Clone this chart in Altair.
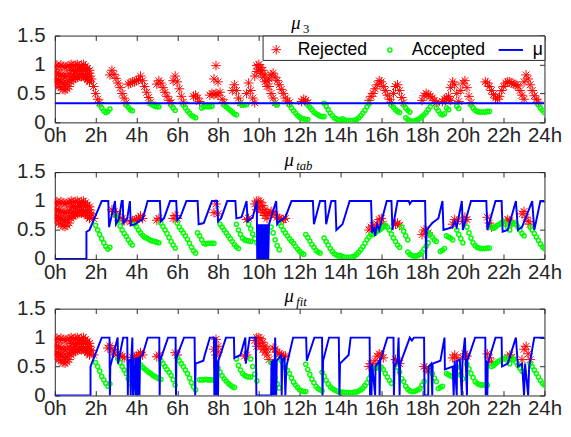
import altair as alt
import pandas as pd

HOUR_TICKS = list(range(0, 25, 2))
Y_TICKS = [0, 0.5, 1, 1.5]
KINDS = ["Rejected", "Accepted", "μ"]
COLORS = ["#ff0000", "#00ff00", "#0000ff"]
# symbols drawn inside one common symbol box, so a single size works for all
ASTER = "M0,-0.4L0,0.4M-0.4,0L0.4,0M-0.28,-0.28L0.28,0.28M-0.28,0.28L0.28,-0.28"
DOT = "M-0.17,0A0.17,0.17,0,1,0,0.17,0A0.17,0.17,0,1,0,-0.17,0Z"
SYM_SIZE = 625
STEP = 0.1
PLOT_W = 502
PLOT_H = 89

# noisy block of rejected requests before the first decision (same in all panels)
BLOB = [
    (0.0, [0.97, 0.99, 0.96, 0.99, 0.97, 0.95, 0.96, 0.98, 1.0, 0.98, 0.99, 1.0, 0.97, 0.99, 1.0, 0.97, 0.93, 0.9]),
    (0.0, [0.87, 0.85, 0.84, 0.82, 0.8, 0.79, 0.8, 0.84, 0.9, 0.9, 0.88, 0.91, 0.92, 0.9, 0.93, 0.9, 0.84, 0.8]),
    (0.0, [0.76, 0.74, 0.72, 0.7, 0.68, 0.66, 0.68, 0.72, 0.79, 0.8, 0.79, 0.8, 0.82, 0.8, 0.83, 0.8, 0.76, 0.72]),
    (0.0, [0.7, 0.66, 0.62, 0.6, 0.57, 0.56, 0.58, 0.62, 0.7, 0.74, 0.76, 0.78, 0.8, 0.79, 0.8, 0.78, 0.74, 0.7]),
]

# ---- panel 1 : mu_3 ----
P1_REJ = [
    (1.7, [0.85, 0.75, 0.62, 0.5, 0.4, 0.34]),
    (2.7, [0.82, 0.9, 0.83, 0.76, 0.68, 0.6, 0.5, 0.42, 0.34]),
    (3.6, [0.66, 0.68, 0.7, 0.7, 0.72, 0.74, 0.8, 0.72, 0.62, 0.52, 0.43, 0.35]),
    (5.0, [0.66, 0.72, 0.68, 0.6, 0.52, 0.45, 0.38, 0.34]),
    (5.8, [0.72, 0.8, 0.7, 0.58, 0.45, 0.35]),
    (6.8, [0.45, 0.47, 0.42, 0.36]),
    (7.6, [0.47, 0.5, 0.75, 0.98, 0.7, 0.52, 0.4, 0.34]),
    (7.8, [0.48, 0.5, 0.47]),
    (8.7, [0.55, 0.65, 0.55, 0.42, 0.34]),
    (9.4, [0.5, 0.68, 0.55, 0.42, 0.34]),
    (9.8, [0.8, 0.98, 1.0, 0.95, 0.9, 0.82, 0.72, 0.62, 0.5, 0.42, 0.34]),
    (9.9, [0.88, 0.92, 0.85, 0.78, 0.7, 0.62]),
    (10.5, [0.75, 0.82, 0.85, 0.78, 0.72, 0.65, 0.57, 0.5, 0.42, 0.37, 0.34]),
    (12.1, [0.36, 0.4, 0.38, 0.34]),
    (15.4, [0.38, 0.45, 0.5, 0.58, 0.65, 0.72, 0.7, 0.62, 0.55, 0.47, 0.4, 0.34]),
    (16.6, [0.5, 0.62, 0.65, 0.55, 0.43, 0.34]),
    (18.0, [0.38, 0.46, 0.5, 0.48, 0.45, 0.42, 0.38, 0.34]),
    (19.0, [0.36, 0.4, 0.42, 0.4, 0.38]),
    (19.3, [0.45, 0.6, 0.7, 0.65, 0.5, 0.36]),
    (19.9, [0.55, 0.68, 0.72, 0.6, 0.45, 0.34]),
    (21.1, [0.7, 0.68, 0.62, 0.55, 0.48, 0.42, 0.4, 0.45, 0.55, 0.62, 0.68, 0.7, 0.7, 0.68, 0.66, 0.65, 0.63, 0.55, 0.47, 0.4]),
    (23.0, [0.7, 0.82, 0.75, 0.65, 0.55, 0.46, 0.4, 0.35]),
]
P1_ACC = [
    (2.2, [0.3, 0.25, 0.2, 0.17, 0.19, 0.23]),
    (3.5, [0.3, 0.26, 0.22, 0.2]),
    (4.7, [0.32, 0.3, 0.28, 0.27, 0.27]),
    (5.7, [0.3, 0.25, 0.21]),
    (6.3, [0.3, 0.25, 0.2, 0.16, 0.12, 0.1, 0.08]),
    (7.2, [0.25, 0.27, 0.28, 0.27, 0.27, 0.28]),
    (8.3, [0.3, 0.27, 0.24, 0.21, 0.18, 0.15, 0.13]),
    (9.1, [0.32, 0.3, 0.3, 0.31]),
    (10.8, [0.32, 0.3]),
    (11.5, [0.3, 0.25, 0.2, 0.16, 0.12, 0.09, 0.07, 0.06, 0.05, 0.05]),
    (12.4, [0.3, 0.26, 0.22, 0.18, 0.15, 0.13, 0.11, 0.1, 0.1]),
    (13.2, [0.33, 0.28, 0.22, 0.16, 0.12, 0.08, 0.06, 0.04, 0.03, 0.03]),
    (14.1, [0.06, 0.04, 0.03, 0.03, 0.03, 0.03, 0.04, 0.05, 0.08, 0.12, 0.16, 0.21, 0.27, 0.32]),
    (16.5, [0.3, 0.26, 0.22, 0.19, 0.17]),
    (17.1, [0.3, 0.25, 0.21, 0.18]),
    (17.2, [0.08, 0.05, 0.03, 0.02, 0.02, 0.03, 0.05, 0.07, 0.1, 0.13, 0.17, 0.22, 0.27]),
    (18.7, [0.25, 0.2, 0.15, 0.13, 0.15]),
    (19.2, [0.25, 0.22]),
    (19.7, [0.28, 0.24]),
    (20.4, [0.3, 0.25, 0.21, 0.19, 0.18, 0.18, 0.18, 0.18, 0.19, 0.19]),
    (23.7, [0.3, 0.25, 0.21, 0.17]),
]
MU3_T = [0, 24]
MU3_V = [0.33, 0.33]

# ---- panel 2 : mu_tab ----
P2_REJ = [
    (1.7, [0.85, 0.78, 0.7]),
    (2.8, [0.85, 0.82, 0.78, 0.72]),
    (3.3, [0.7, 0.66]),
    (3.7, [0.64, 0.66, 0.66, 0.68, 0.7, 0.74, 0.7]),
    (5.0, [0.67, 0.7]),
    (5.8, [0.7, 0.75, 0.7]),
    (7.8, [0.8, 0.95, 0.78]),
    (9.4, [0.68, 0.7]),
    (9.8, [0.95, 1.0, 1.0, 0.98, 0.92, 0.85, 0.8]),
    (9.9, [0.85, 0.9, 0.85, 0.8, 0.75, 0.7]),
    (10.5, [0.78, 0.82, 0.8, 0.76, 0.72, 0.7, 0.68, 0.68, 0.7]),
    (15.4, [0.5, 0.55, 0.58, 0.5, 0.6, 0.68, 0.7, 0.6]),
    (16.7, [0.6, 0.62, 0.58]),
    (18.0, [0.42, 0.5, 0.48, 0.45]),
    (19.5, [0.6, 0.68, 0.65]),
    (20.0, [0.65, 0.72, 0.68]),
    (21.2, [0.72, 0.62, 0.55]),
    (22.1, [0.65, 0.68, 0.66, 0.62]),
    (22.9, [0.78, 0.82, 0.72, 0.65, 0.6]),
]
P2_ACC = [
    (2.0, [0.58, 0.5, 0.42, 0.35, 0.28, 0.22, 0.17, 0.2]),
    (3.0, [0.75, 0.66, 0.57, 0.5, 0.44, 0.39, 0.33, 0.28, 0.24]),
    (3.9, [0.6, 0.56, 0.5, 0.45, 0.41, 0.38, 0.36, 0.34, 0.32, 0.31, 0.3, 0.29, 0.28]),
    (5.2, [0.62, 0.56, 0.5, 0.44, 0.37, 0.3, 0.24, 0.19]),
    (6.0, [0.62, 0.55, 0.5, 0.45, 0.4, 0.34, 0.27, 0.2, 0.14, 0.1]),
    (7.0, [0.45, 0.4, 0.33, 0.27, 0.26, 0.27, 0.27, 0.27, 0.27]),
    (8.1, [0.6, 0.55, 0.5, 0.45, 0.4, 0.35, 0.3, 0.25, 0.21, 0.18]),
    (8.9, [0.6, 0.5, 0.42, 0.36, 0.33, 0.32, 0.31, 0.3]),
    (9.5, [0.6, 0.52, 0.43, 0.35, 0.28]),
    (10.6, [0.55, 0.45, 0.33, 0.23, 0.16]),
    (11.0, [0.62, 0.57, 0.5, 0.45, 0.4, 0.35, 0.31, 0.27, 0.22, 0.17, 0.13, 0.1, 0.08]),
    (12.3, [0.42, 0.37, 0.31, 0.25, 0.2, 0.15, 0.12, 0.1]),
    (13.2, [0.36, 0.3, 0.24, 0.18, 0.13, 0.09, 0.07, 0.05]),
    (14.0, [0.06, 0.04, 0.03, 0.03, 0.03, 0.03, 0.04, 0.05, 0.08, 0.12, 0.16, 0.21, 0.27, 0.33, 0.38, 0.42]),
    (15.6, [0.42, 0.45, 0.48, 0.5, 0.52]),
    (16.1, [0.55, 0.58, 0.55, 0.5, 0.43, 0.36, 0.3, 0.24, 0.2]),
    (17.0, [0.55, 0.48, 0.4, 0.33]),
    (17.3, [0.12, 0.08, 0.06, 0.05, 0.05, 0.06, 0.08, 0.12, 0.17, 0.22, 0.28]),
    (18.3, [0.45, 0.42, 0.38, 0.33, 0.3]),
    (18.9, [0.13, 0.15, 0.18]),
    (19.2, [0.4, 0.38, 0.36, 0.33]),
    (19.7, [0.5, 0.42, 0.35, 0.28]),
    (20.2, [0.55, 0.45, 0.36, 0.28, 0.23, 0.2, 0.19, 0.18, 0.18, 0.18, 0.19, 0.19]),
    (21.4, [0.55, 0.53, 0.55, 0.58, 0.6, 0.63, 0.65, 0.6, 0.55, 0.5]),
    (22.4, [0.6, 0.63, 0.6, 0.55, 0.5, 0.44, 0.4]),
    (23.3, [0.55, 0.5, 0.44, 0.38, 0.32, 0.26, 0.21, 0.18]),
]
MUTAB_T = [0, 1.55, 1.55, 1.7, 2.3, 2.62, 2.66, 2.95, 3.0, 3.15, 3.28, 3.33, 3.36, 3.55, 3.68, 3.72,
           3.95, 4.1, 4.3, 4.55, 5.15, 5.2, 5.35, 5.65, 5.95, 6.0, 6.15, 6.45, 7.0, 7.05, 7.3, 7.7,
           7.95, 8.0, 8.15, 8.45, 8.85, 8.9, 9.15, 9.4, 9.45, 9.7, 9.9,
           9.92, 9.95, 9.98, 10.01, 10.04, 10.07, 10.1, 10.13, 10.16, 10.19, 10.22, 10.25, 10.28,
           10.31, 10.34, 10.37, 10.4, 10.43, 10.46, 10.5,
           10.85, 10.9, 11.0, 11.3, 11.6, 12.65, 12.7, 13.0, 13.25, 13.3, 13.55, 13.75, 13.8, 14.1,
           14.45, 15.5, 15.55, 15.65, 15.7, 15.8, 15.9, 16.27, 16.5, 16.55, 16.8, 17.35, 17.4, 17.5,
           18.15, 18.2, 18.22, 18.5, 18.8, 19.0, 19.05, 19.5, 19.6, 19.7, 19.95, 20.0, 20.4, 21.15,
           21.2, 21.6, 21.9, 21.95, 22.2, 22.6, 22.7, 22.9, 23.4, 23.5, 23.8, 24]
MUTAB_V = [0, 0, 0.47, 0.5, 1.0, 1.0, 0.55, 1.0, 0.6, 0.7, 1.0, 1.0, 0.62, 0.7, 1.0, 0.58,
           0.6, 0.65, 0.68, 1.0, 1.0, 0.65, 0.7, 1.0, 1.0, 0.67, 0.72, 1.0, 1.0, 0.6, 0.62, 1.0,
           1.0, 0.65, 0.7, 1.0, 1.0, 0.7, 0.72, 1.0, 0.65, 0.72, 1.0,
           0, 0.6, 0, 0.6, 0, 0.6, 0, 0.6, 0, 0.6, 0, 0.6, 0,
           0.6, 0, 0.6, 0, 0.6, 0, 0.6,
           1.0, 0.6, 0.65, 0.72, 1.0, 1.0, 0.6, 1.0, 1.0, 0.6, 1.0, 1.0, 0.5, 0.6,
           1.0, 1.0, 0.45, 0.55, 0.4, 0.6, 0.5, 1.0, 1.0, 0.5, 1.0, 1.0, 0.95, 1.0,
           1.0, 0, 0.5, 0.62, 0.7, 1.0, 0.5, 0.55, 0.65, 0.55, 1.0, 0.5, 1.0, 1.0,
           0.5, 1.0, 1.0, 0.47, 0.5, 1.0, 0.5, 0.55, 1.0, 0.5, 1.0, 1.0]

# ---- panel 3 : mu_fit ----
P3_REJ = [
    (1.7, [0.85, 0.78, 0.7]),
    (2.6, [0.82, 0.86, 0.8, 0.75, 0.7]),
    (3.2, [0.7, 0.67, 0.65]),
    (3.8, [0.66, 0.66, 0.68, 0.7, 0.74, 0.7]),
    (5.0, [0.67, 0.7]),
    (5.9, [0.74, 0.7]),
    (7.8, [0.8, 0.97, 0.75]),
    (7.9, [0.7, 0.85]),
    (9.3, [0.68, 0.7]),
    (9.8, [0.95, 1.0, 1.0, 0.98, 0.92, 0.85, 0.8]),
    (9.9, [0.85, 0.9, 0.85, 0.8, 0.75, 0.7, 0.62]),
    (10.7, [0.82, 0.8, 0.75, 0.72, 0.7, 0.68, 0.68]),
    (15.4, [0.5, 0.55, 0.5, 0.6, 0.68, 0.72, 0.7, 0.65]),
    (16.7, [0.62, 0.6, 0.55]),
    (18.1, [0.5, 0.47, 0.42]),
    (19.5, [0.65, 0.7, 0.65]),
    (20.0, [0.65, 0.72, 0.68]),
    (21.2, [0.72, 0.65, 0.58]),
    (22.2, [0.65, 0.7, 0.66]),
    (22.9, [0.62, 0.8, 0.85, 0.72, 0.62]),
]
P3_ACC = [
    (2.0, [0.57, 0.5, 0.42, 0.33, 0.27, 0.21, 0.16, 0.2]),
    (3.1, [0.63, 0.57, 0.5, 0.44, 0.38, 0.29, 0.21]),
    (4.1, [0.57, 0.53, 0.49, 0.46, 0.43, 0.4, 0.38, 0.35, 0.33, 0.31, 0.29, 0.28]),
    (5.2, [0.6, 0.55, 0.5, 0.45, 0.4, 0.35, 0.27, 0.18]),
    (6.0, [0.65, 0.6, 0.55, 0.5, 0.44, 0.38, 0.3, 0.22, 0.15, 0.1]),
    (7.1, [0.27, 0.27, 0.27, 0.28, 0.27, 0.27, 0.27, 0.27]),
    (7.9, [0.52, 0.47, 0.4, 0.34, 0.29, 0.25, 0.21, 0.18, 0.15, 0.14]),
    (8.9, [0.63, 0.52, 0.44, 0.38, 0.35, 0.33, 0.32, 0.32]),
    (9.6, [0.63, 0.5, 0.37, 0.25]),
    (10.6, [0.57, 0.45, 0.3, 0.2, 0.13]),
    (11.1, [0.6, 0.55, 0.48, 0.43, 0.38, 0.3, 0.23, 0.18, 0.14, 0.1, 0.08, 0.07, 0.07]),
    (12.3, [0.54, 0.45, 0.36, 0.28, 0.22, 0.16, 0.12, 0.1, 0.08]),
    (13.1, [0.4, 0.33, 0.26, 0.2, 0.15, 0.12, 0.1, 0.08, 0.07, 0.06, 0.06, 0.05, 0.05, 0.05,
            0.05, 0.05, 0.06, 0.06, 0.08, 0.1, 0.13, 0.17, 0.22, 0.29, 0.35]),
    (15.6, [0.46, 0.47, 0.48, 0.48, 0.49, 0.45, 0.38, 0.32, 0.26, 0.21]),
    (16.8, [0.49, 0.4, 0.29]),
    (17.1, [0.24, 0.16, 0.11, 0.08, 0.07, 0.07, 0.08, 0.1, 0.12, 0.18, 0.24]),
    (18.4, [0.46, 0.38, 0.3, 0.24]),
    (18.8, [0.12, 0.14, 0.16]),
    (19.2, [0.38, 0.36, 0.34, 0.33, 0.32]),
    (19.7, [0.49, 0.42, 0.35, 0.29]),
    (20.2, [0.54, 0.46, 0.38, 0.31, 0.24, 0.21, 0.19, 0.18, 0.18, 0.18, 0.18]),
    (21.4, [0.5, 0.52, 0.55, 0.58, 0.6, 0.62, 0.64, 0.65, 0.6, 0.55]),
    (22.4, [0.65, 0.62, 0.58, 0.52, 0.47, 0.42]),
    (23.3, [0.55, 0.5, 0.44, 0.38, 0.32, 0.26, 0.21, 0.18]),
]
MUFIT_T = [0, 1.75, 1.75, 2.3, 2.68, 2.7, 2.72, 3.08, 3.1, 3.35, 3.55, 3.58, 3.6, 3.7, 3.72, 3.75,
           3.8, 3.83, 3.86, 3.95, 3.98, 4.05, 4.08, 4.15, 4.18, 4.3, 4.55, 5.12, 5.14, 5.16, 5.55,
           5.92, 5.94, 5.96, 6.33, 6.85, 6.88, 6.9, 7.28, 7.35, 7.6, 7.8, 7.82, 7.85, 7.88, 7.9,
           7.93, 7.96, 8.0, 8.02, 8.39, 8.78, 8.8, 9.1, 9.34, 9.36, 9.55, 9.85, 9.88, 10.6, 10.62,
           10.65, 10.7, 10.75, 10.8, 10.85, 10.88, 11.1, 11.12, 11.15, 11.25, 11.3, 11.35, 11.68,
           12.32, 12.35, 12.72, 13.1, 13.12, 13.15, 13.44, 13.92, 13.95, 13.98, 14.4, 14.5, 15.43,
           15.45, 15.48, 15.52, 15.55, 15.7, 15.72, 15.9, 15.92, 15.95, 16.3, 16.6, 16.62, 16.65,
           16.8, 16.85, 16.9, 16.93, 17.4, 17.5, 17.6, 18.1, 18.12, 18.3, 18.32, 18.45, 18.5, 18.52,
           18.9, 19.1, 19.12, 19.5, 19.55, 19.6, 19.7, 19.72, 19.85, 19.95, 19.98, 20.1, 20.2, 20.22,
           20.6, 21.1, 21.12, 21.15, 21.2, 21.22, 21.6, 21.9, 21.92, 22.2, 22.6, 22.7, 22.9, 23.0,
           23.05, 23.2, 23.25, 23.5, 24]
MUFIT_V = [0, 0, 0.5, 1.0, 1.0, 0, 0.5, 1.0, 0.55, 1.0, 1.0, 0, 0.6, 0.62, 0, 0.63,
           1.0, 0, 0.64, 0, 0.65, 0, 0.66, 0, 0.67, 0.7, 1.0, 1.0, 0, 0.6, 1.0,
           1.0, 0, 0.65, 1.0, 1.0, 0, 0.55, 0.6, 0.7, 1.0, 1.0, 0, 0.65, 0, 1.0,
           0, 0.6, 0, 0.6, 1.0, 1.0, 0.65, 0.7, 1.0, 0.55, 1.0, 1.0, 0, 0, 0.6,
           0, 0.62, 0, 1.0, 0, 0.6, 0.7, 0, 0.62, 0.65, 0, 0.5, 1.0,
           1.0, 0.6, 1.0, 1.0, 0, 0.6, 1.0, 1.0, 0, 0.55, 0.7, 1.0, 1.0,
           0, 0.5, 0, 0.55, 0, 0.5, 0.6, 0, 0.6, 1.0, 1.0, 0, 0.5,
           0.6, 1.0, 0, 0.55, 1.0, 0.95, 1.0, 1.0, 0, 0, 0.5, 0.55, 0, 0.55,
           0.6, 1.0, 0.45, 0.5, 0, 0.6, 0, 0.6, 0.62, 0, 0.6, 1.0, 0, 0.6,
           1.0, 1.0, 0, 0.6, 0, 0.55, 1.0, 1.0, 0.5, 0.55, 1.0, 0.5, 0.55, 0,
           0.55, 0, 0.5, 1.0, 1.0]


def points(segs, kind):
    rows = []
    for start, vals in segs:
        for i, v in enumerate(vals):
            rows.append({"t": round(start + STEP * i, 3), "v": v, "kind": kind})
    return rows


AX = dict(labelFont="Liberation Sans", labelFontSize=21, labelColor="#262626",
          tickColor="#262626", tickSize=5, tickWidth=1, domain=False, grid=False,
          labelOverlap=False, labelFlush=False)
TITLE_STYLE = dict(titleFont="Liberation Serif", titleFontStyle="italic", titleFontWeight="normal",
                   titleColor="black", titleAngle=0, titleAlign="left", titleBaseline="alphabetic")


def panel(rej, acc, mu_t, mu_v, sub, sub_style, mu_x, sub_x, show_legend):
    pts = pd.DataFrame(points(BLOB + rej, "Rejected") + points(acc, "Accepted"))
    mu = pd.DataFrame({"t": mu_t, "v": mu_v, "ord": list(range(len(mu_t)))})
    xs = alt.Scale(domain=[0, 24], nice=False, zero=False)
    ys = alt.Scale(domain=[0, 1.5], nice=False, zero=False)
    leg = None
    if show_legend:
        leg = alt.Legend(title=None, orient="top-right", direction="horizontal", offset=0,
                         strokeColor="#262626", fillColor="white", padding=1,
                         labelFont="Liberation Sans", labelFontSize=18, labelColor="black",
                         labelOffset=9, columnPadding=9, cornerRadius=0, symbolSize=SYM_SIZE)
    pts_layer = alt.Chart(pts).mark_point(filled=False, opacity=1, clip=True, size=SYM_SIZE).encode(
        x=alt.X("t:Q", scale=xs, axis=alt.Axis(orient="bottom", values=HOUR_TICKS, offset=-5, title=None,
                                                labelExpr="datum.value + 'h'", labelPadding=3, **AX)),
        y=alt.Y("v:Q", scale=ys, axis=alt.Axis(orient="left", values=Y_TICKS, format="~g", offset=-5,
                                                title=None, labelPadding=10, **AX)),
        color=alt.Color("kind:N", scale=alt.Scale(domain=KINDS, range=COLORS), legend=leg),
        shape=alt.Shape("kind:N", scale=alt.Scale(domain=KINDS, range=[ASTER, DOT, "stroke"]), legend=leg),
        strokeWidth=alt.StrokeWidth("kind:N", scale=alt.Scale(domain=KINDS, range=[1, 2], padding=0), legend=leg),
    )
    # panel title "mu" and its subscript are carried by the mirrored top / right axes
    mu_layer = alt.Chart(mu).mark_line(color="#0000ff", strokeWidth=2, clip=True).encode(
        x=alt.X("t:Q", scale=xs, axis=alt.Axis(orient="top", values=HOUR_TICKS, offset=-5, labels=False,
                                                title=sub, titleX=sub_x, titleY=-8, titleFontSize=13,
                                                minExtent=0, maxExtent=0,
                                                **dict(TITLE_STYLE, titleFontStyle=sub_style), **AX)),
        y=alt.Y("v:Q", scale=ys, axis=alt.Axis(orient="right", values=Y_TICKS, offset=-5, labels=False,
                                                title="μ", titleX=mu_x, titleY=-7, titleFontSize=19,
                                                minExtent=0, maxExtent=0,
                                                **TITLE_STYLE, **AX)),
        order=alt.Order("ord:Q"),
    )
    return alt.layer(pts_layer, mu_layer).resolve_axis(x="independent", y="independent").properties(
        width=PLOT_W, height=PLOT_H)


p1 = panel(P1_REJ, P1_ACC, MU3_T, MU3_V, "3", "normal", 242 - (PLOT_W - 5), 254, True)
p2 = panel(P2_REJ, P2_ACC, MUTAB_T, MUTAB_V, "tab", "italic", 235 - (PLOT_W - 5), 247, False)
p3 = panel(P3_REJ, P3_ACC, MUFIT_T, MUFIT_V, "fit", "italic", 235 - (PLOT_W - 5), 247, False)

chart = alt.vconcat(p1, p2, p3, spacing=3).resolve_scale(
    color="independent", shape="independent", strokeWidth="independent"
).properties(padding={"left": 8, "top": 0, "right": 0, "bottom": 0}).configure_view(
    stroke="#262626", strokeWidth=1)

chart.save("out.html", embed_options={"renderer": "svg", "actions": False})
